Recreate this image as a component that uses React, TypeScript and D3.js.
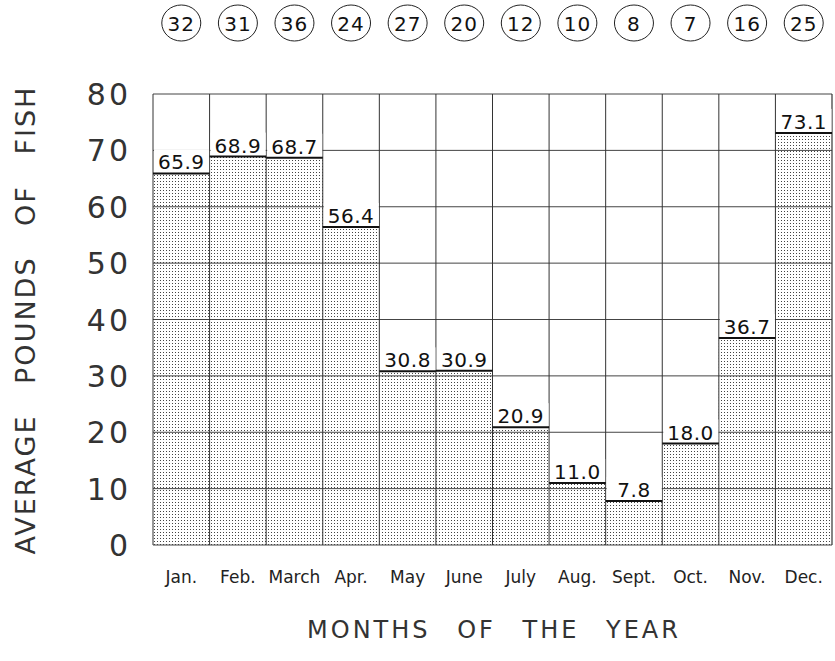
import React from "react";
import * as d3 from "d3";

const months = ["Jan.", "Feb.", "March", "Apr.", "May", "June", "July", "Aug.", "Sept.", "Oct.", "Nov.", "Dec."];
const pounds = [65.9, 68.9, 68.7, 56.4, 30.8, 30.9, 20.9, 11.0, 7.8, 18.0, 36.7, 73.1];
const counts = [32, 31, 36, 24, 27, 20, 12, 10, 8, 7, 16, 25];
const yTicks = [0, 10, 20, 30, 40, 50, 60, 70, 80];

const width = 835;
const height = 661;
const margin = { top: 94, right: 3, bottom: 116, left: 153 };
const font = "'DejaVu Sans', sans-serif";

export default function App() {
  const x = d3.scaleBand<string>()
    .domain(months)
    .range([margin.left, width - margin.right]);
  const y = d3.scaleLinear()
    .domain([0, 80])
    .range([height - margin.bottom, margin.top]);

  const bw = x.bandwidth();
  const x0 = margin.left, x1 = width - margin.right;
  const y0 = y(0), y1 = y(80);

  return (
    <svg width={width} height={height} style={{ position: "absolute", left: 0, top: 0, background: "#fff" }}>
      <defs>
        <pattern id="stipple" width="3" height="3" patternUnits="userSpaceOnUse">
          <rect width="3" height="3" fill="#fff" />
          <rect x="1" y="1" width="1" height="1" fill="#444" />
        </pattern>
      </defs>

      {/* count circles */}
      {months.map((m, i) => (
        <g key={"c" + m} transform={`translate(${x(m)! + bw / 2},23)`}>
          <ellipse rx={19.5} ry={18} fill="none" stroke="#222" strokeWidth={1} />
          <text y={7.5} textAnchor="middle" fontFamily={font} fontSize={20} letterSpacing={1} fill="#111">{counts[i]}</text>
        </g>
      ))}

      {/* bars */}
      {months.map((m, i) => (
        <rect key={"b" + m} x={x(m)} y={y(pounds[i])} width={bw} height={y0 - y(pounds[i])} fill="url(#stipple)" />
      ))}

      {/* horizontal grid */}
      {yTicks.map(t => (
        <line key={"h" + t} x1={x0} x2={x1} y1={y(t)} y2={y(t)} stroke="#444" strokeWidth={1} />
      ))}
      {/* vertical column lines */}
      {months.map(m => (
        <line key={"v" + m} x1={x(m)} x2={x(m)} y1={y1} y2={y0} stroke="#333" strokeWidth={1} />
      ))}
      <line x1={x1} x2={x1} y1={y1} y2={y0} stroke="#333" strokeWidth={1.2} />

      {/* bar tops and value labels */}
      {months.map((m, i) => {
        const top = y(pounds[i]);
        return (
          <g key={"l" + m}>
            <rect x={x(m)! + 1} y={top - 24} width={bw - 1.5} height={23} fill="#fff" />
            <line x1={x(m)} x2={x(m)! + bw} y1={top} y2={top} stroke="#111" strokeWidth={2} />
            <text x={x(m)! + bw / 2} y={top - 4} textAnchor="middle" fontFamily={font} fontSize={20}
              letterSpacing={0.5} fill="#111">
              {pounds[i].toFixed(1)}
            </text>
          </g>
        );
      })}

      {/* y tick labels */}
      {yTicks.map(t => (
        <text key={"t" + t} x={131} y={y(t) + 11} textAnchor="end" fontFamily={font} fontSize={30}
          letterSpacing={3} fill="#333">{t}</text>
      ))}

      {/* month labels */}
      {months.map(m => (
        <text key={"m" + m} x={x(m)! + bw / 2} y={583} textAnchor="middle" fontFamily={font} fontSize={17} fill="#222">{m}</text>
      ))}

      <text transform="translate(35,320) rotate(-90)" textAnchor="middle" fontFamily={font} fontSize={27}
        letterSpacing={2} wordSpacing={20} fill="#333">AVERAGE POUNDS OF FISH</text>
      <text x={494} y={638} textAnchor="middle" fontFamily={font} fontSize={24}
        letterSpacing={3} wordSpacing={16} fill="#333">MONTHS OF THE YEAR</text>
    </svg>
  );
}
